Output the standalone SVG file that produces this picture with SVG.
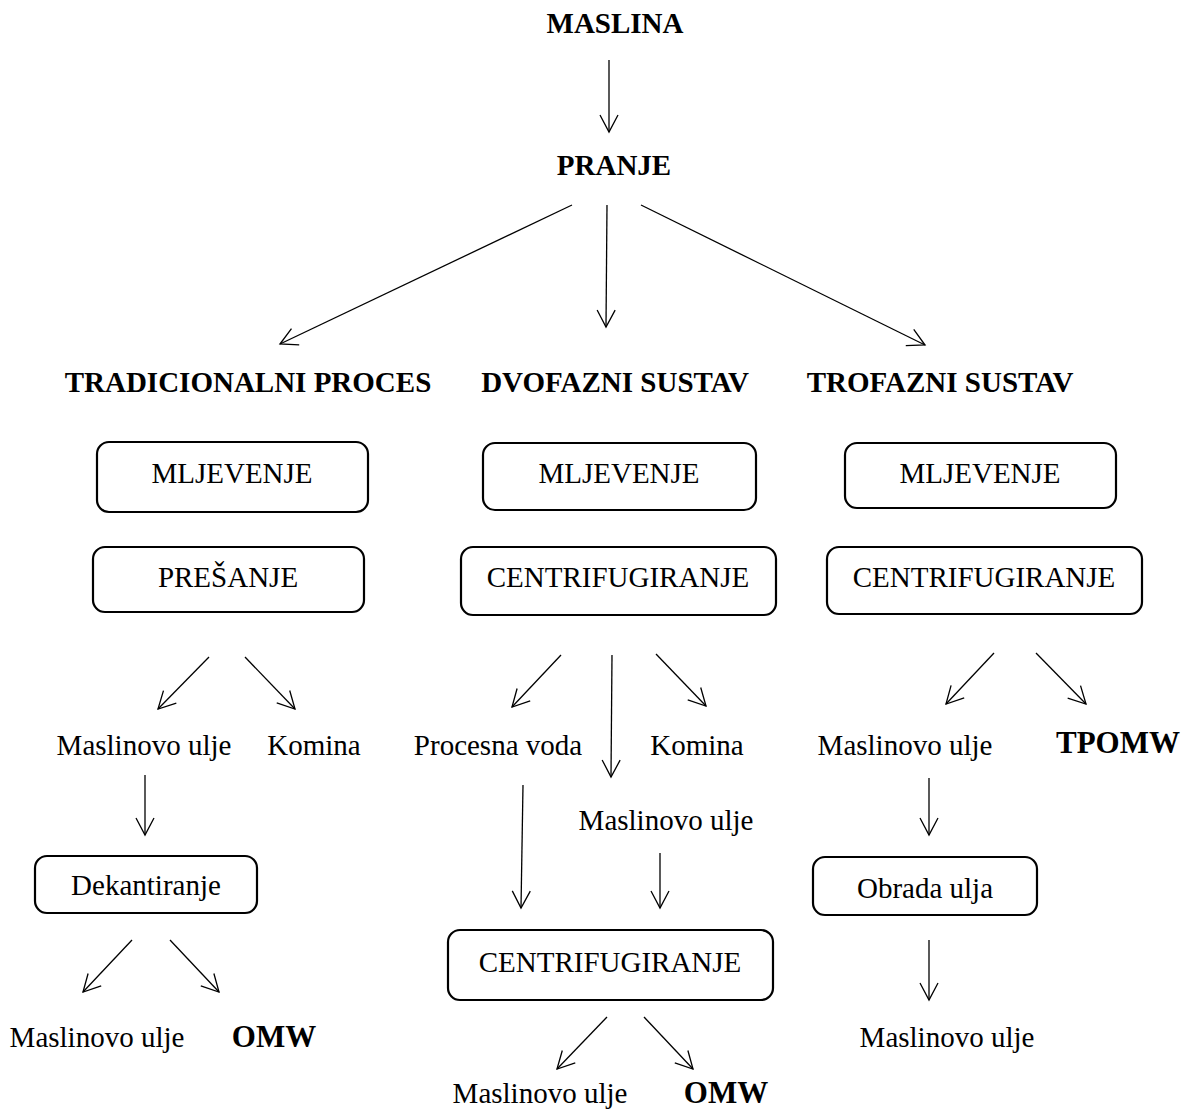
<svg xmlns="http://www.w3.org/2000/svg" width="1189" height="1111" viewBox="0 0 1189 1111">
<defs>
<style>
.t{font-family:"Liberation Serif","Times New Roman",serif;font-size:29px;fill:#000;text-anchor:middle}
.b{font-weight:bold}
.big{font-size:31px}
.box{fill:#fff;stroke:#000;stroke-width:2.2}
.c line{stroke:#000;stroke-width:1.3;marker-end:url(#ah)}
</style>
<marker id="ah" viewBox="0 0 20 20" refX="18" refY="10" markerWidth="20" markerHeight="20" markerUnits="userSpaceOnUse" orient="auto">
<path d="M1,1 L18,10 L1,19" fill="none" stroke="#000" stroke-width="1.3"/>
</marker>
</defs>
<rect width="1189" height="1111" fill="#fff"/>
<g id="connectors" class="c">
<line x1="609" y1="60" x2="609" y2="132"/>
<line x1="572" y1="205" x2="280" y2="344"/>
<line x1="607" y1="205" x2="606" y2="327"/>
<line x1="641" y1="205" x2="925" y2="345"/>
<line x1="209" y1="657" x2="158" y2="709"/>
<line x1="245" y1="657" x2="295" y2="709"/>
<line x1="145" y1="775" x2="145" y2="835"/>
<line x1="132" y1="940" x2="83" y2="992"/>
<line x1="170" y1="940" x2="219" y2="992"/>
<line x1="561" y1="655" x2="512" y2="707"/>
<line x1="612" y1="655" x2="611" y2="777"/>
<line x1="656" y1="654" x2="706" y2="706"/>
<line x1="523" y1="785" x2="521" y2="908"/>
<line x1="660" y1="853" x2="660" y2="908"/>
<line x1="607" y1="1017" x2="557" y2="1069"/>
<line x1="644" y1="1017" x2="693" y2="1069"/>
<line x1="994" y1="653" x2="946" y2="704"/>
<line x1="1036" y1="653" x2="1086" y2="704"/>
<line x1="929" y1="778" x2="929" y2="835"/>
<line x1="929" y1="940" x2="929" y2="1000"/>
</g>
<g id="maslina"><text class="t b" x="615" y="33">MASLINA</text></g>
<g id="pranje"><text class="t b" x="614" y="175">PRANJE</text></g>
<g id="tradicionalni"><text class="t b" x="248" y="392">TRADICIONALNI PROCES</text></g>
<g id="dvofazni"><text class="t b" x="615" y="392">DVOFAZNI SUSTAV</text></g>
<g id="trofazni"><text class="t b" x="940" y="392">TROFAZNI SUSTAV</text></g>
<g id="mlj1"><rect class="box" x="97" y="442" width="271" height="70" rx="12"/><text class="t" x="232" y="483">MLJEVENJE</text></g>
<g id="mlj2"><rect class="box" x="483" y="443" width="273" height="67" rx="12"/><text class="t" x="619" y="483">MLJEVENJE</text></g>
<g id="mlj3"><rect class="box" x="845" y="443" width="271" height="65" rx="12"/><text class="t" x="980" y="483">MLJEVENJE</text></g>
<g id="presanje"><rect class="box" x="93" y="547" width="271" height="65" rx="12"/><text class="t" x="228" y="587">PREŠANJE</text></g>
<g id="centri2"><rect class="box" x="461" y="547" width="315" height="68" rx="12"/><text class="t" x="618" y="587">CENTRIFUGIRANJE</text></g>
<g id="centri3"><rect class="box" x="827" y="547" width="315" height="67" rx="12"/><text class="t" x="984" y="587">CENTRIFUGIRANJE</text></g>
<g id="ulje1"><text class="t" x="144" y="755">Maslinovo ulje</text></g>
<g id="komina1"><text class="t" x="314" y="755">Komina</text></g>
<g id="voda"><text class="t" x="498" y="755">Procesna voda</text></g>
<g id="komina2"><text class="t" x="697" y="755">Komina</text></g>
<g id="ulje3"><text class="t" x="905" y="755">Maslinovo ulje</text></g>
<g id="tpomw"><text class="t b big" x="1118" y="753">TPOMW</text></g>
<g id="ulje2"><text class="t" x="666" y="830">Maslinovo ulje</text></g>
<g id="dekantiranje"><rect class="box" x="35" y="856" width="222" height="57" rx="12"/><text class="t" x="146" y="895">Dekantiranje</text></g>
<g id="obrada"><rect class="box" x="813" y="857" width="224" height="58" rx="12"/><text class="t" x="925" y="898">Obrada ulja</text></g>
<g id="centri4"><rect class="box" x="448" y="930" width="325" height="70" rx="12"/><text class="t" x="610" y="972">CENTRIFUGIRANJE</text></g>
<g id="ulje4"><text class="t" x="97" y="1047">Maslinovo ulje</text></g>
<g id="omw1"><text class="t b big" x="274" y="1047">OMW</text></g>
<g id="ulje5"><text class="t" x="540" y="1103">Maslinovo ulje</text></g>
<g id="omw2"><text class="t b big" x="726" y="1103">OMW</text></g>
<g id="ulje6"><text class="t" x="947" y="1047">Maslinovo ulje</text></g>
</svg>
